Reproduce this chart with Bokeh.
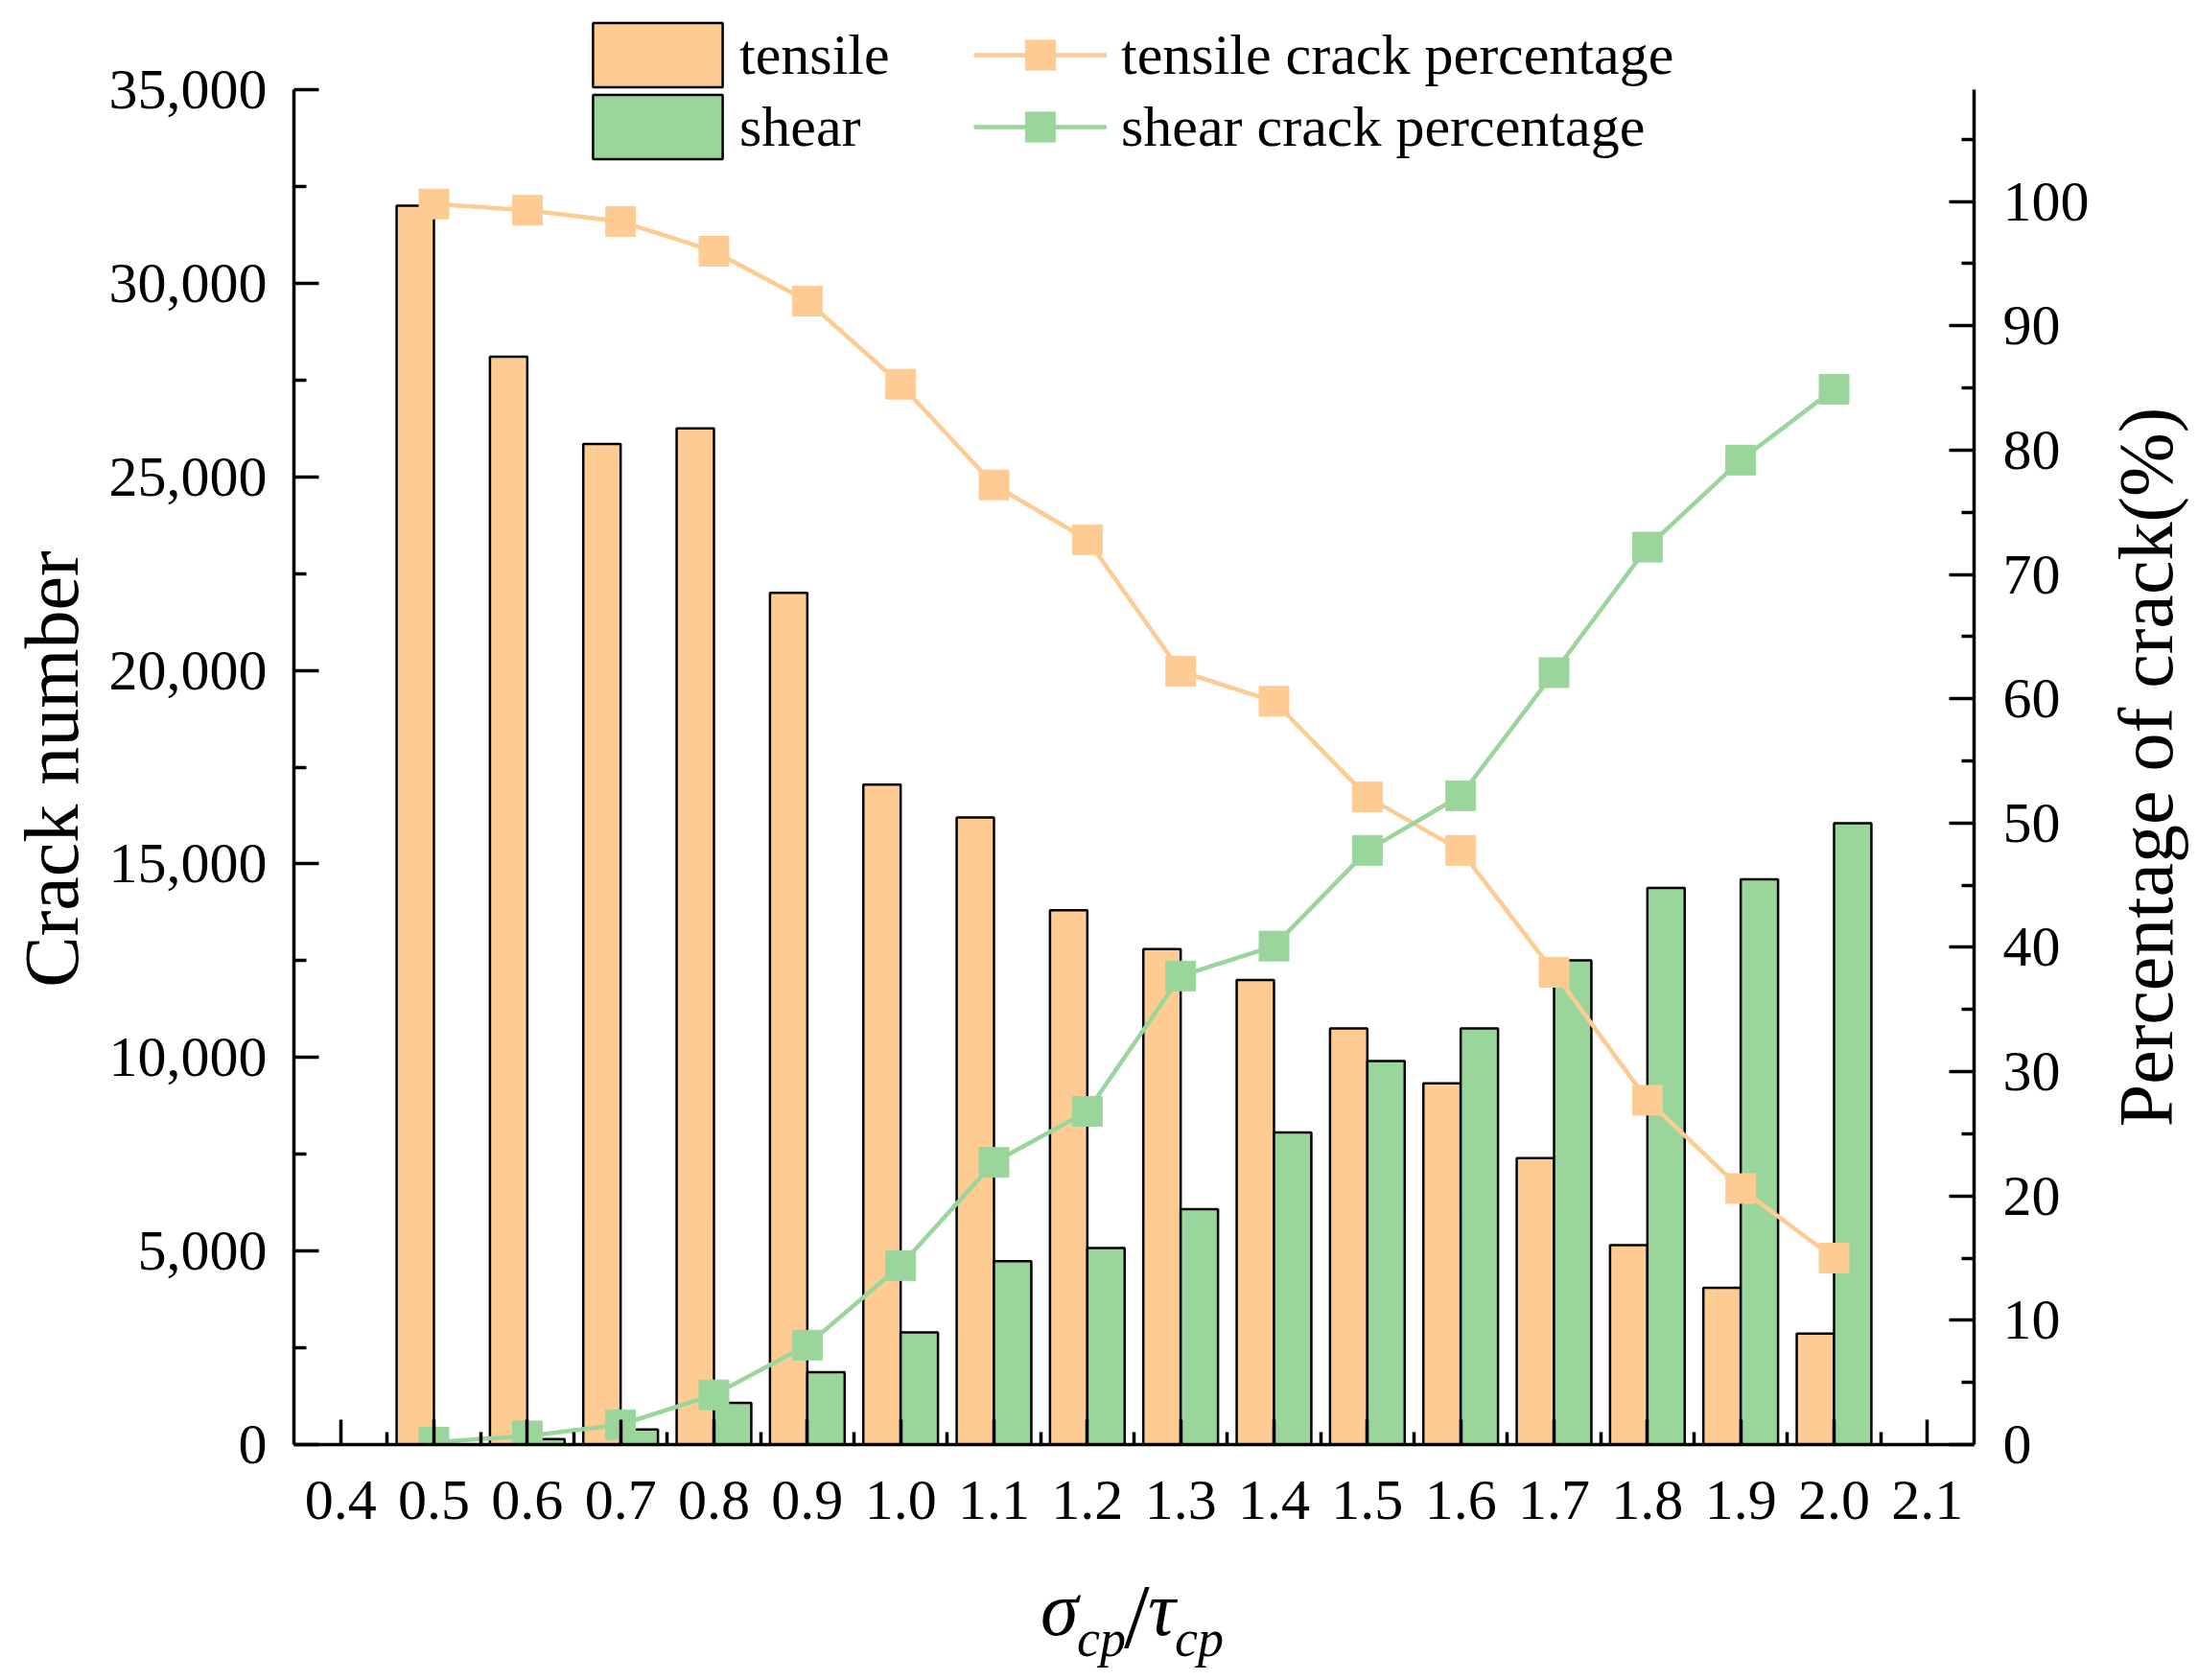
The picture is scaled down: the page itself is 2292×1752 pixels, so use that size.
from bokeh.plotting import figure
from bokeh.models import (ColumnDataSource, Range1d, LinearAxis, FixedTicker, PrintfTickFormatter,
                          NumeralTickFormatter, Legend, LegendItem, Div)
from bokeh.layouts import column, row
from bokeh.transform import dodge
from bokeh.embed import file_html
from bokeh.resources import INLINE

# ---- data ----
x_vals = [0.5, 0.6, 0.7, 0.8, 0.9, 1.0, 1.1, 1.2, 1.3, 1.4, 1.5, 1.6, 1.7, 1.8, 1.9, 2.0]
tensile = [32000, 28100, 25850, 26250, 22000, 17050, 16200, 13800, 12800, 12000, 10750, 9330, 7400, 5150, 4050, 2870]
shear = [0, 140, 390, 1080, 1870, 2900, 4740, 5080, 6080, 8060, 9910, 10750, 12510, 14380, 14600, 16050]
tensile_pct = [99.8, 99.3, 98.4, 96.0, 92.0, 85.3, 77.2, 72.8, 62.2, 59.8, 52.1, 47.8, 38.0, 27.7, 20.6, 15.0]
shear_pct = [0.2, 0.7, 1.6, 4.0, 8.0, 14.4, 22.7, 26.8, 37.7, 40.1, 47.8, 52.2, 62.1, 72.2, 79.2, 84.9]
x_ticks = [0.4, 0.5, 0.6, 0.7, 0.8, 0.9, 1.0, 1.1, 1.2, 1.3, 1.4, 1.5, 1.6, 1.7, 1.8, 1.9, 2.0, 2.1]
x_minor = [0.45, 0.55, 0.65, 0.75, 0.85, 0.95, 1.05, 1.15, 1.25, 1.35, 1.45, 1.55, 1.65, 1.75, 1.85, 1.95, 2.05]
y_ticks = [0, 5000, 10000, 15000, 20000, 25000, 30000, 35000]
y_minor = [2500, 7500, 12500, 17500, 22500, 27500, 32500]
pct_ticks = [0, 10, 20, 30, 40, 50, 60, 70, 80, 90, 100]
pct_minor = [5, 15, 25, 35, 45, 55, 65, 75, 85, 95, 105]

ORANGE = "#FECB92"
GREEN = "#9AD69B"
FONT = "Liberation Serif"
TICK_FS = "60px"

# ---- page geometry (pixels) ----
TOTAL_W, TOTAL_H = 2292, 1752
LEFT_DIV_W, RIGHT_DIV_W = 105, 95
FIG_W = TOTAL_W - LEFT_DIV_W - RIGHT_DIV_W
FIG_H = 1640
FR_L, FR_R, FR_T, FR_B = 306, 2058, 8, 1506   # frame edges on the page
AX_TOP = 93                                   # top end of both y axes
Y_MAX, PCT_MAX = 35000, 109
y_end = Y_MAX * (FR_B - FR_T) / (FR_B - AX_TOP)
pct_end = PCT_MAX * (FR_B - FR_T) / (FR_B - AX_TOP)

src = ColumnDataSource(dict(x=x_vals, tensile=tensile, shear=shear,
                            tensile_pct=tensile_pct, shear_pct=shear_pct))

p = figure(width=FIG_W, height=FIG_H, output_backend="svg", toolbar_location=None,
           x_range=Range1d(0.35, 2.15), y_range=Range1d(0, y_end),
           min_border_left=FR_L - LEFT_DIV_W, min_border_right=TOTAL_W - RIGHT_DIV_W - FR_R,
           min_border_top=FR_T, min_border_bottom=FIG_H - FR_B)
p.extra_y_ranges = {"pct": Range1d(0, pct_end)}
p.outline_line_color = None
p.xgrid.visible = False
p.ygrid.visible = False
p.background_fill_color = "white"
p.border_fill_color = "white"

r_t = p.vbar(x=dodge("x", -0.02), width=0.04, top="tensile", source=src,
             fill_color=ORANGE, line_color="black", line_width=2.5)
r_s = p.vbar(x=dodge("x", 0.02), width=0.04, top="shear", source=src,
             fill_color=GREEN, line_color="black", line_width=2.5)

l_t = p.line(x="x", y="tensile_pct", source=src, y_range_name="pct", line_color=ORANGE, line_width=4.5)
m_t = p.scatter(x="x", y="tensile_pct", source=src, y_range_name="pct", marker="square",
                size=31, fill_color=ORANGE, line_color=ORANGE)
l_s = p.line(x="x", y="shear_pct", source=src, y_range_name="pct", line_color=GREEN, line_width=4.5)
m_s = p.scatter(x="x", y="shear_pct", source=src, y_range_name="pct", marker="square",
                size=31, fill_color=GREEN, line_color=GREEN)


def style_axis(ax):
    ax.axis_line_width = 3.5
    ax.axis_line_color = "black"
    ax.major_tick_line_width = 3.5
    ax.minor_tick_line_width = 3.5
    ax.major_tick_in = 26
    ax.major_tick_out = 0
    ax.minor_tick_in = 13
    ax.minor_tick_out = 0
    ax.major_label_text_font = FONT
    ax.major_label_text_font_size = TICK_FS
    ax.major_label_text_color = "black"


# x axis
xa = p.xaxis[0]
xa.ticker = FixedTicker(ticks=x_ticks, minor_ticks=x_minor)
xa.formatter = PrintfTickFormatter(format="%.1f")
style_axis(xa)
xa.major_label_standoff = 38

# left axis
ya = p.yaxis[0]
ya.ticker = FixedTicker(ticks=y_ticks, minor_ticks=y_minor)
ya.formatter = NumeralTickFormatter(format="0,0")
ya.bounds = (0, Y_MAX)
style_axis(ya)
ya.major_label_standoff = 28

# right axis
ra = LinearAxis(y_range_name="pct")
ra.ticker = FixedTicker(ticks=pct_ticks, minor_ticks=pct_minor)
ra.bounds = (0, PCT_MAX)
style_axis(ra)
ra.major_label_standoff = 30
p.add_layout(ra, "right")

# ---- legends: one per row so each row sits exactly where the reference has it ----
leg_common = dict(padding=0, margin=0, spacing=0, border_line_color=None, background_fill_alpha=0,
                  label_text_font=FONT, label_text_font_size=TICK_FS, label_text_color="black")


def add_legend(label, renderers, left, center_y, gw, gh, standoff):
    top = center_y - gh / 2
    leg = Legend(items=[LegendItem(label=label, renderers=renderers)],
                 location=(left - FR_L, round(FR_B - (top + gh))),
                 glyph_width=gw, glyph_height=gh, label_height=gh,
                 label_standoff=standoff, **leg_common)
    p.add_layout(leg)


add_legend("tensile", [r_t], 601, 57, 169, 84, 1)
add_legend("shear", [r_s], 601, 132, 169, 84, 1)
add_legend("tensile crack percentage", [l_t, m_t], 1015, 57, 139, 78, 15)
add_legend("shear crack percentage", [l_s, m_s], 1015, 132, 139, 78, 15)


# ---- axis titles as real HTML text ----
def rotated_title(width, cx, cy, text):
    return Div(text=f'<div style="position:relative;width:{width}px;height:{TOTAL_H}px;'
                    f'font-family:\'{FONT}\';color:black">'
                    f'<div style="position:absolute;left:{cx}px;top:{cy}px;white-space:nowrap;'
                    f'font-size:80px;line-height:1;transform:translate(-50%,-50%) rotate(-90deg)">'
                    f'{text}</div></div>',
               width=width, height=TOTAL_H, margin=0)


divl = rotated_title(LEFT_DIV_W, 54, 802, "Crack number")
divr = rotated_title(RIGHT_DIV_W, 2238 - (TOTAL_W - RIGHT_DIV_W), 800, "Percentage of crack(%)")

DIVX_H = TOTAL_H - FIG_H
pieces = [
    (1085, -2, "80px", "italic", "σ"),
    (1123, 42, "54px", "italic", "cp"),
    (1172, -2, "96px", "normal", "/"),
    (1197, -2, "80px", "italic", "τ"),
    (1225, 42, "54px", "italic", "cp"),
]
spans = "".join(
    f'<span style="position:absolute;left:{lx - LEFT_DIV_W}px;top:{ty}px;font-size:{fs};'
    f'font-style:{st};line-height:1;white-space:nowrap">{t}</span>'
    for (lx, ty, fs, st, t) in pieces)
divx = Div(text=f'<div style="position:relative;width:{FIG_W}px;height:{DIVX_H}px;'
                f'font-family:\'{FONT}\';color:black">{spans}</div>',
           width=FIG_W, height=DIVX_H, margin=0)

layout = row(divl, column(p, divx, spacing=0), divr, spacing=0)

open("out.html", "w").write(file_html(layout, INLINE))
